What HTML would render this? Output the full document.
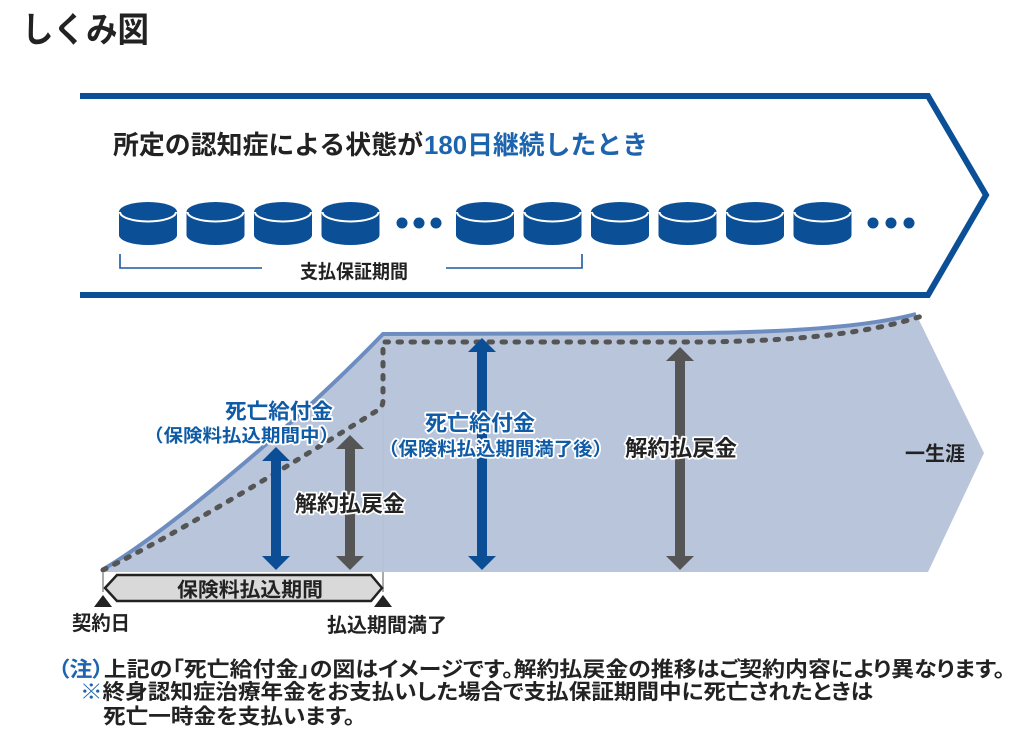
<!DOCTYPE html>
<html><head><meta charset="utf-8">
<style>
html,body{margin:0;padding:0;background:#fff;width:1024px;height:745px;overflow:hidden}
svg{display:block}
text{font-family:"Liberation Sans","Noto Sans CJK JP",sans-serif;font-weight:bold}
.h{paint-order:stroke;stroke:#fff;stroke-width:3.5;stroke-linejoin:round}
.p{font-feature-settings:"palt"}
</style></head>
<body>
<svg width="1024" height="745" viewBox="0 0 1024 745" xmlns="http://www.w3.org/2000/svg">
<!-- Title -->
<text x="22" y="42" font-size="35" fill="#222" textLength="127" lengthAdjust="spacingAndGlyphs">しくみ図</text>

<!-- Chevron outline -->
<path d="M80,96 L928,96 L986,195 L928,295 L80,295" fill="none" stroke="#0b4f96" stroke-width="6" stroke-linejoin="miter"/>

<!-- Heading -->
<text x="113" y="154" font-size="26" fill="#222" textLength="310" lengthAdjust="spacingAndGlyphs">所定の認知症による状態が</text>
<text x="424" y="154" font-size="26" fill="#1d64ae" textLength="224" lengthAdjust="spacingAndGlyphs">180日継続したとき</text>

<!-- Cylinders -->
<g fill="#0b4f96">
<path d="M119,212 A29,10 0 0 1 177,212 L177,235 A29,10 0 0 1 119,235 Z"/>
<path d="M186.5,212 A29,10 0 0 1 244.5,212 L244.5,235 A29,10 0 0 1 186.5,235 Z"/>
<path d="M254,212 A29,10 0 0 1 312,212 L312,235 A29,10 0 0 1 254,235 Z"/>
<path d="M321.5,212 A29,10 0 0 1 379.5,212 L379.5,235 A29,10 0 0 1 321.5,235 Z"/>
<path d="M456,212 A29,10 0 0 1 514,212 L514,235 A29,10 0 0 1 456,235 Z"/>
<path d="M523.5,212 A29,10 0 0 1 581.5,212 L581.5,235 A29,10 0 0 1 523.5,235 Z"/>
<path d="M591,212 A29,10 0 0 1 649,212 L649,235 A29,10 0 0 1 591,235 Z"/>
<path d="M658.5,212 A29,10 0 0 1 716.5,212 L716.5,235 A29,10 0 0 1 658.5,235 Z"/>
<path d="M726,212 A29,10 0 0 1 784,212 L784,235 A29,10 0 0 1 726,235 Z"/>
<path d="M793.5,212 A29,10 0 0 1 851.5,212 L851.5,235 A29,10 0 0 1 793.5,235 Z"/>
<circle cx="402" cy="223" r="5.5"/><circle cx="419" cy="223" r="5.5"/><circle cx="436" cy="223" r="5.5"/>
<circle cx="873" cy="223" r="5.5"/><circle cx="891" cy="223" r="5.5"/><circle cx="909" cy="223" r="5.5"/>
</g>
<g fill="none" stroke="#fff" stroke-width="2">
<path d="M120,212 A28,9.5 0 0 0 176,212"/>
<path d="M187.5,212 A28,9.5 0 0 0 243.5,212"/>
<path d="M255,212 A28,9.5 0 0 0 311,212"/>
<path d="M322.5,212 A28,9.5 0 0 0 378.5,212"/>
<path d="M457,212 A28,9.5 0 0 0 513,212"/>
<path d="M524.5,212 A28,9.5 0 0 0 580.5,212"/>
<path d="M592,212 A28,9.5 0 0 0 648,212"/>
<path d="M659.5,212 A28,9.5 0 0 0 715.5,212"/>
<path d="M727,212 A28,9.5 0 0 0 783,212"/>
<path d="M794.5,212 A28,9.5 0 0 0 850.5,212"/>
</g>

<!-- Bracket -->
<path d="M120,254 L120,268 L262,268 M446,268 L582,268 L582,254" fill="none" stroke="#1b5aa0" stroke-width="1.6"/>
<text x="300" y="278" font-size="19" fill="#222" textLength="108" lengthAdjust="spacingAndGlyphs">支払保証期間</text>

<!-- Graph area -->
<path d="M103,572 L103,570 C170,530 300,420 383,334 L700,333 C800,332 870,326 916,314 L984,453 L928,572 Z" fill="#b9c5da"/>
<line x1="383" y1="340" x2="383" y2="572" stroke="#b2bed3" stroke-width="1"/>
<path d="M102,570 C170,530 300,420 383,334 L700,333 C800,332 870,326 916,314" fill="none" stroke="#6d8dc1" stroke-width="4"/>
<path d="M103,570 C175,535 290,465 378,410 Q383,407 383,400 L383,342 L700,342 C800,341 870,333 922,316" fill="none" stroke="#555" stroke-width="5" stroke-linecap="round" stroke-dasharray="3.5 9.5"/>

<!-- Arrows -->
<g fill="#0b4e95">
<rect x="271" y="460" width="10" height="97"/>
<polygon points="276,447 262,461 290,461"/><polygon points="276,570 262,556 290,556"/>
<rect x="477" y="351" width="10" height="206"/>
<polygon points="482,338 468,352 496,352"/><polygon points="482,570 468,556 496,556"/>
</g>
<g fill="#555">
<rect x="345" y="448" width="10" height="109"/>
<polygon points="350,435 336,449 364,449"/><polygon points="350,570 336,556 364,556"/>
<rect x="675" y="360" width="10" height="197"/>
<polygon points="680,347 666,361 694,361"/><polygon points="680,570 666,556 694,556"/>
</g>

<!-- Graph labels -->
<text class="h" x="225" y="418.5" font-size="21" fill="#0f5ba6" textLength="108" lengthAdjust="spacingAndGlyphs">死亡給付金</text>
<text class="h" x="144" y="442" font-size="18" fill="#0f5ba6" textLength="195" lengthAdjust="spacingAndGlyphs">（保険料払込期間中）</text>
<text class="h" x="425" y="430.5" font-size="21.5" fill="#0f5ba6" textLength="110" lengthAdjust="spacingAndGlyphs">死亡給付金</text>
<text class="h" x="379" y="455.5" font-size="18.5" fill="#0f5ba6" textLength="233" lengthAdjust="spacingAndGlyphs">（保険料払込期間満了後）</text>
<text class="h" x="295" y="511.5" font-size="22" fill="#222" textLength="110" lengthAdjust="spacingAndGlyphs">解約払戻金</text>
<text class="h" x="625" y="456" font-size="22" fill="#222" textLength="112" lengthAdjust="spacingAndGlyphs">解約払戻金</text>
<text x="905" y="460.5" font-size="20" fill="#222" textLength="60" lengthAdjust="spacingAndGlyphs">一生涯</text>

<!-- Premium period bar -->
<line x1="103" y1="572" x2="103" y2="592" stroke="#aaa" stroke-width="2"/>
<line x1="383" y1="572" x2="383" y2="592" stroke="#aaa" stroke-width="2"/>
<polygon points="105,588 117,575 371,575 382,588 371,601 117,601" fill="#d9d9d9" stroke="#222" stroke-width="2.5" stroke-linejoin="miter"/>
<text x="177" y="596.5" font-size="20" fill="#222" textLength="146" lengthAdjust="spacingAndGlyphs">保険料払込期間</text>
<polygon points="103,595 94,607 112,607" fill="#222"/>
<polygon points="383,595 374,607 392,607" fill="#222"/>
<text x="72" y="630" font-size="20" fill="#222" textLength="58" lengthAdjust="spacingAndGlyphs">契約日</text>
<text x="327" y="632" font-size="20" fill="#222" textLength="120" lengthAdjust="spacingAndGlyphs">払込期間満了</text>

<!-- Notes -->
<text class="p" x="58" y="676.5" font-size="21" fill="#222" textLength="947" lengthAdjust="spacingAndGlyphs"><tspan fill="#1d64ae">（注）</tspan>上記の「死亡給付金」の図はイメージです。解約払戻金の推移はご契約内容により異なります。</text>
<text class="p" x="80" y="699" font-size="21" fill="#222" textLength="793" lengthAdjust="spacingAndGlyphs"><tspan fill="#1d64ae">※</tspan>終身認知症治療年金をお支払いした場合で支払保証期間中に死亡されたときは</text>
<text class="p" x="103" y="723.5" font-size="21" fill="#222" textLength="252" lengthAdjust="spacingAndGlyphs">死亡一時金を支払います。</text>
</svg>
</body></html>
